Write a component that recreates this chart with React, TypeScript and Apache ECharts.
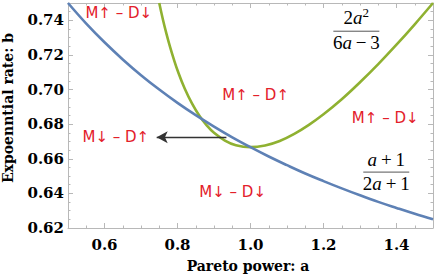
import React, { useEffect, useRef } from 'react';
import * as echarts from 'echarts';

// Blue curve (a+1)/(2a+1)
const aBlue = [0.5, 0.55, 0.6, 0.65, 0.7, 0.75, 0.8, 0.85, 0.9, 0.95, 1.0, 1.05, 1.1, 1.15, 1.2, 1.25, 1.3, 1.35, 1.4, 1.45, 1.5];
const bBlue = [0.75, 0.7381, 0.7273, 0.7174, 0.7083, 0.7, 0.6923, 0.6852, 0.6786, 0.6724, 0.6667, 0.6613, 0.6563, 0.6515, 0.6471, 0.6429, 0.6389, 0.6351, 0.6316, 0.6282, 0.625];

// Green curve 2a^2/(6a-3)
const aGreen = [0.75, 0.76, 0.77, 0.78, 0.79, 0.8, 0.82, 0.84, 0.86, 0.88, 0.9, 0.93, 0.96, 1.0, 1.04, 1.08, 1.12, 1.16, 1.2, 1.25, 1.3, 1.35, 1.4, 1.45, 1.5];
const bGreen = [0.75, 0.7405, 0.732, 0.7243, 0.7174, 0.7111, 0.7004, 0.6918, 0.6848, 0.6793, 0.675, 0.6705, 0.6678, 0.6667, 0.6677, 0.6703, 0.6744, 0.6796, 0.6857, 0.6944, 0.7042, 0.7147, 0.7259, 0.7377, 0.75];

const xTicks = [0.6, 0.8, 1.0, 1.2, 1.4];
const yTicks = [0.62, 0.64, 0.66, 0.68, 0.7, 0.72, 0.74];

const regionLabels = ['M\u2191 \u2013 D\u2193', 'M\u2191 \u2013 D\u2191', 'M\u2191 \u2013 D\u2193', 'M\u2193 \u2013 D\u2191', 'M\u2193 \u2013 D\u2193'];
const regionA = [0.639, 1.014, 1.369, 0.631, 0.951];
const regionB = [0.744, 0.6967, 0.6835, 0.6725, 0.6408];

const arrowFrom = [0.934, 0.6725];
const arrowTo = [0.743, 0.6725];

const frac1Pos = [1.29, 0.7337];
const frac2Pos = [1.372, 0.6523];

const xTitle = 'Pareto power: a';
const yTitle = 'Expoenntial rate: b';

const FRAME = '#b8b8b8';
const SERIF = '"DejaVu Serif", serif';
const MATH = '"Liberation Serif", "Times New Roman", serif';
const RED = '#e3202a';

export default function App() {
  const ref = useRef<HTMLDivElement>(null);
  useEffect(() => {
    if (!ref.current) return;
    const chart = echarts.init(ref.current, null, { renderer: 'svg' });
    const xBase = { type: 'value', min: 0.5, max: 1.5, splitLine: { show: false } };
    const yBase = { type: 'value', min: 0.62, max: 0.75, splitLine: { show: false } };
    const tickLabel = { fontFamily: SERIF, fontWeight: 'bold', fontSize: 15, color: '#000' };
    const option: any = {
      animation: false,
      grid: { left: 68, right: 3, top: 3, bottom: 49, containLabel: false },
      xAxis: [
        { ...xBase, position: 'bottom', interval: 0.05, axisLine: { show: true, onZero: false, lineStyle: { color: FRAME } },
          axisTick: { show: true, inside: true, length: 2.5, lineStyle: { color: FRAME } }, axisLabel: { show: false } },
        { ...xBase, position: 'bottom', axisLine: { show: false },
          axisTick: { show: true, inside: true, length: 5, customValues: xTicks, lineStyle: { color: FRAME } },
          axisLabel: { show: true, customValues: xTicks, margin: 9, formatter: (v: number) => v.toFixed(1), ...tickLabel } },
        { ...xBase, position: 'top', interval: 0.05, axisLine: { show: true, onZero: false, lineStyle: { color: FRAME } },
          axisTick: { show: true, inside: true, length: 2.5, lineStyle: { color: FRAME } }, axisLabel: { show: false } },
        { ...xBase, position: 'top', axisLine: { show: false },
          axisTick: { show: true, inside: true, length: 5, customValues: xTicks, lineStyle: { color: FRAME } }, axisLabel: { show: false } },
      ],
      yAxis: [
        { ...yBase, position: 'left', interval: 0.005, axisLine: { show: true, onZero: false, lineStyle: { color: FRAME } },
          axisTick: { show: true, inside: true, length: 2.5, lineStyle: { color: FRAME } }, axisLabel: { show: false } },
        { ...yBase, position: 'left', axisLine: { show: false },
          axisTick: { show: true, inside: true, length: 5, customValues: yTicks, lineStyle: { color: FRAME } },
          axisLabel: { show: true, customValues: yTicks, margin: 4, formatter: (v: number) => v.toFixed(2), ...tickLabel } },
        { ...yBase, position: 'right', interval: 0.005, axisLine: { show: true, onZero: false, lineStyle: { color: FRAME } },
          axisTick: { show: true, inside: true, length: 2.5, lineStyle: { color: FRAME } }, axisLabel: { show: false } },
        { ...yBase, position: 'right', axisLine: { show: false },
          axisTick: { show: true, inside: true, length: 5, customValues: yTicks, lineStyle: { color: FRAME } }, axisLabel: { show: false } },
      ],
      series: [
        {
          type: 'line', xAxisIndex: 0, yAxisIndex: 0, showSymbol: false, symbol: 'none', smooth: 0.4,
          data: aGreen.map((a, i) => [a, bGreen[i]]),
          lineStyle: { color: '#8FB131', width: 2.6 }, z: 3,
        },
        {
          type: 'line', xAxisIndex: 0, yAxisIndex: 0, showSymbol: false, symbol: 'none', smooth: 0.4,
          data: aBlue.map((a, i) => [a, bBlue[i]]),
          lineStyle: { color: '#5E81B5', width: 2.6 }, z: 4,
          markLine: {
            silent: true, animation: false, symbol: ['none', 'arrow'], symbolSize: [9, 11],
            label: { show: false },
            lineStyle: { color: '#333333', width: 1.3, type: 'solid' },
            data: [[{ coord: arrowFrom }, { coord: arrowTo }]],
          },
        },
      ],
    };
    chart.setOption(option);

    const px = (p: number[]) => chart.convertToPixel({ gridIndex: 0 }, p) as number[];
    const p1 = px(frac1Pos);
    const p2 = px(frac2Pos);
    const rich = {
      n: { fontFamily: MATH, fontSize: 19, color: '#111' },
      i: { fontFamily: MATH, fontSize: 19, fontStyle: 'italic', color: '#111' },
      s: { fontFamily: MATH, fontSize: 13, color: '#111', padding: [0, 0, 9, 0] },
    };
    const frac = (cx: number, cy: number, num: string, den: string, half: number) => [
      { type: 'text', x: cx, y: cy - 3, style: { text: num, rich, align: 'center', verticalAlign: 'bottom' }, z: 10 },
      { type: 'line', shape: { x1: cx - half, y1: cy, x2: cx + half, y2: cy }, style: { stroke: '#555', lineWidth: 1 }, z: 10 },
      { type: 'text', x: cx, y: cy + 2, style: { text: den, rich, align: 'center', verticalAlign: 'top' }, z: 10 },
    ];
    const regionTexts = regionLabels.map((t, i) => {
      const p = px([regionA[i], regionB[i]]);
      return { type: 'text', x: p[0], y: p[1], z: 10,
        style: { text: t, fill: RED, font: `15px "DejaVu Sans", sans-serif`, align: 'center', verticalAlign: 'middle' } };
    });
    chart.setOption({
      graphic: [
        ...frac(p1[0], p1[1], '{n|2}{i|a}{s|2}', '{n|6}{i|a}{n|\u2009\u2212\u20093}', 23),
        ...frac(p2[0], p2[1], '{i|a}{n|\u2009+\u20091}', '{n|2}{i|a}{n|\u2009+\u20091}', 23),
        ...regionTexts,
        { type: 'text', x: 248, y: 266, style: { text: xTitle, font: `bold 14px ${SERIF}`, fill: '#000', align: 'center', verticalAlign: 'middle' } },
        { type: 'text', x: 8, y: 108, rotation: Math.PI / 2, style: { text: yTitle, font: `bold 14px ${SERIF}`, fill: '#000', align: 'center', verticalAlign: 'middle' } },
      ],
    });
    return () => chart.dispose();
  }, []);
  return <div ref={ref} style={{ width: 436, height: 277, position: 'absolute', left: 0, top: 0 }} />;
}
